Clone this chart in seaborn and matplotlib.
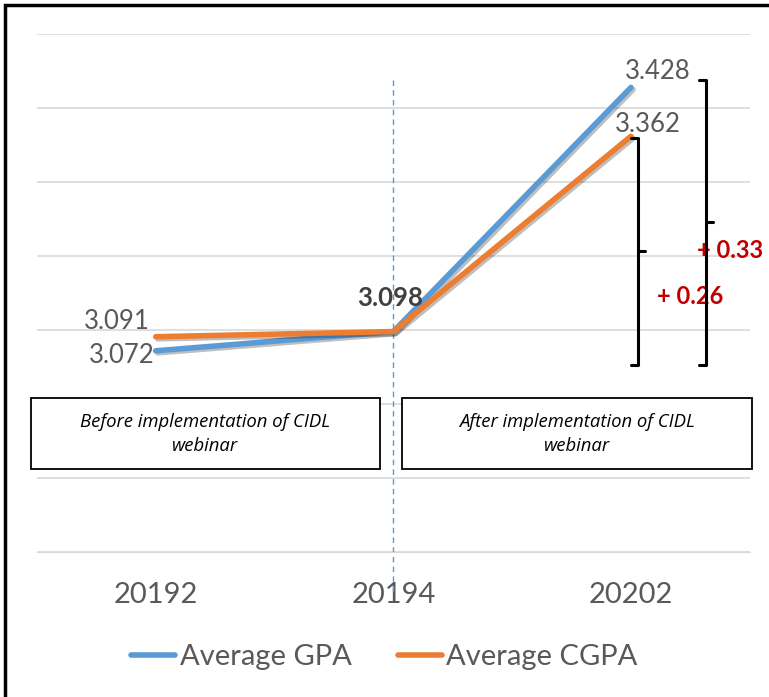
import pandas as pd
import numpy as np
import seaborn as sns
import matplotlib.pyplot as plt
import matplotlib.patheffects as pe
from matplotlib.patches import Rectangle

terms = ["20192", "20194", "20202"]
gpa = [3.072, 3.098, 3.428]
cgpa = [3.091, 3.098, 3.362]
series_names = ["Average GPA", "Average CGPA"]
box_texts = ["Before implementation of CIDL\nwebinar", "After implementation of CIDL\nwebinar"]
gains = ["+ 0.26", "+ 0.33"]

df = pd.DataFrame({
    "term": terms * 2,
    "value": gpa + cgpa,
    "series": [series_names[0]] * 3 + [series_names[1]] * 3,
})

sns.set_style("white")
plt.rcParams["font.family"] = ["Lato", "DejaVu Sans"]
grey = "#595959"

fig = plt.figure(figsize=(7.69, 6.97), dpi=100)
ax = fig.add_axes([0.048, 0.208, 0.927, 0.743])

shadow = [pe.SimpleLineShadow(offset=(1.5, -1.5), alpha=0.25, shadow_color="black"), pe.Normal()]
sns.lineplot(data=df, x="term", y="value", hue="series", sort=False,
             palette={"Average GPA": "#5B9BD5", "Average CGPA": "#ED7D31"},
             linewidth=4, ax=ax, legend=False, zorder=3)
for ln in ax.lines:
    ln.set_path_effects(shadow)
    ln.set_solid_capstyle("round")
    ln.set_solid_joinstyle("round")

ax.set_ylim(2.8, 3.5)
ax.set_xlim(-0.5, 2.5)
ax.set_yticks(np.arange(2.8, 3.51, 0.1))
ax.yaxis.grid(True, color="#d9d9d9", linewidth=1.2)
ax.set_axisbelow(True)
ax.tick_params(axis="y", left=False, labelleft=False)
ax.tick_params(axis="x", bottom=False, labelsize=21, colors=grey, pad=18)
for s in ["top", "right", "left"]:
    ax.spines[s].set_visible(False)
ax.spines["bottom"].set_color("#d9d9d9")
ax.set_xlabel("")
ax.set_ylabel("")

# data labels
lab = dict(fontsize=18.5, color=grey, ha="center", va="center")
ax.text(2.114, 3.449, f"{gpa[2]:.3f}", **lab)
ax.text(2.072, 3.378, f"{cgpa[2]:.3f}", **lab)
ax.text(0.986, 3.143, f"{gpa[1]:.3f}", fontsize=18.5, color="#404040", ha="center",
        va="center", fontweight="bold")
ax.text(-0.163, 3.111, f"{cgpa[0]:.3f}", **lab)
ax.text(-0.142, 3.066, f"{gpa[0]:.3f}", **lab)

# dashed divider
ax.plot([1, 1], [3.438, 2.745], color="#5B9BD5", linestyle=(0, (4, 3)),
        linewidth=1, clip_on=False, zorder=2)

# annotation boxes
for x0, x1, txt in [(-0.525, 0.944, box_texts[0]), (1.036, 2.509, box_texts[1])]:
    ax.add_patch(Rectangle((x0, 2.912), x1 - x0, 0.096, facecolor="white",
                           edgecolor="black", linewidth=1.3, clip_on=False, zorder=4))
    ax.text((x0 + x1) / 2, 2.960, txt, ha="center", va="center", fontsize=13.3,
            style="italic", color="black", linespacing=1.45, zorder=5,
            family=["Open Sans", "DejaVu Sans"])

# brackets
def bracket(x, y0, y1, ym):
    w = 0.03
    ax.plot([x - w, x, x, x - w], [y1, y1, y0, y0], color="black", linewidth=2.2,
            clip_on=False, zorder=5)
    ax.plot([x, x + w], [ym, ym], color="black", linewidth=2.2, clip_on=False, zorder=5)

bracket(2.03, 3.053, 3.359, 3.207)
bracket(2.316, 3.053, 3.438, 3.246)
ax.text(2.248, 3.146, gains[0], ha="center", va="center", color="#C00000",
        fontsize=17, fontweight="bold")
ax.text(2.415, 3.207, gains[1], ha="center", va="center", color="#C00000",
        fontsize=17, fontweight="bold")

# legend
handles = [plt.Line2D([], [], color=c, linewidth=4, solid_capstyle="round")
           for c in ["#5B9BD5", "#ED7D31"]]
fig.legend(handles, series_names, loc="center", bbox_to_anchor=(0.5, 0.057), ncol=2,
           frameon=False, fontsize=21, labelcolor=grey, handlelength=1.5,
           handletextpad=0.15, columnspacing=1.6)

# outer frame
fig.patches.append(Rectangle((0.006, -0.01), 1.2, 1.003, transform=fig.transFigure,
                             fill=False, edgecolor="black", linewidth=2.5))

fig.savefig("out.png", dpi=100)
